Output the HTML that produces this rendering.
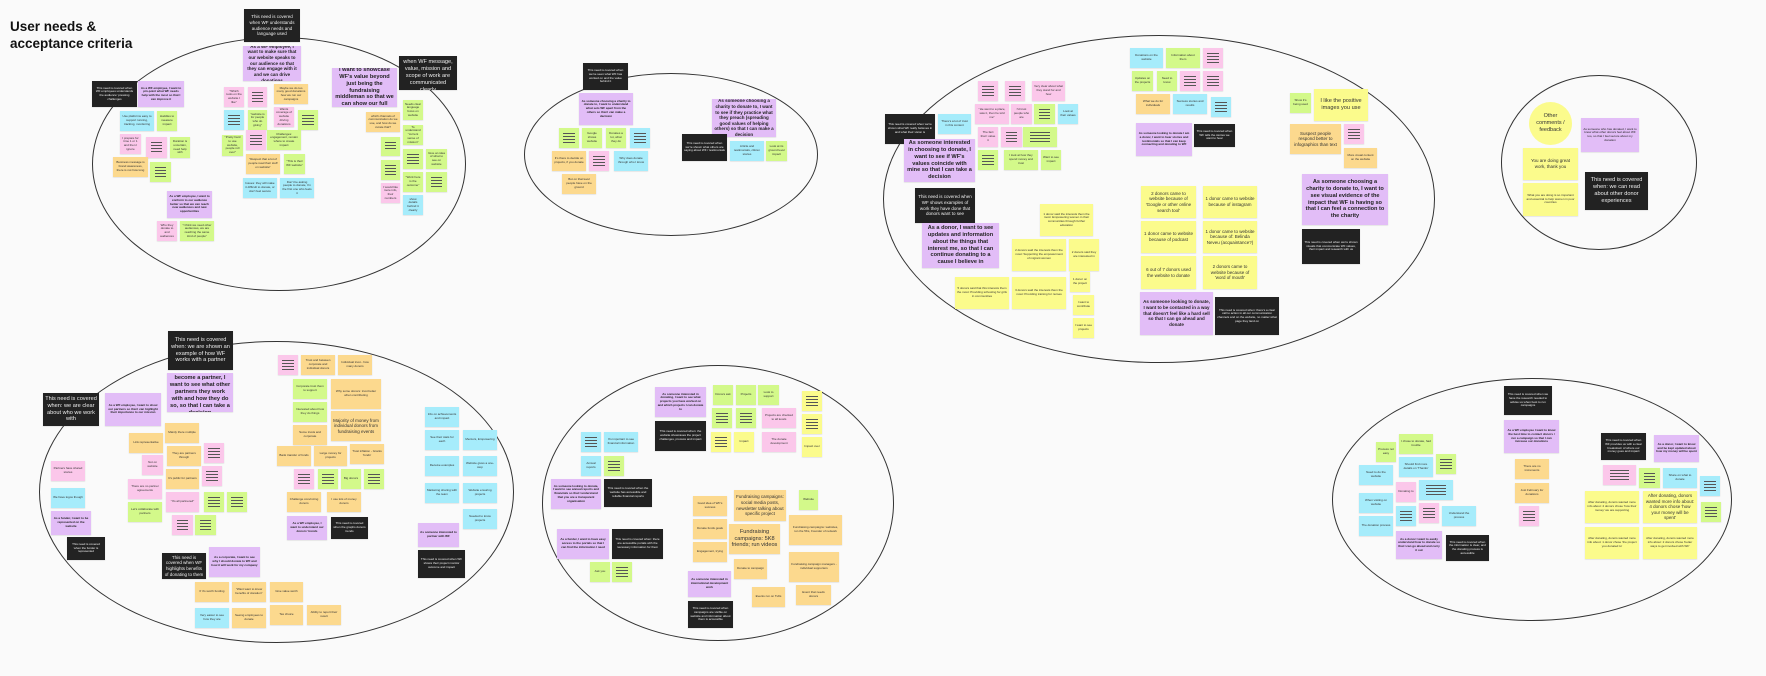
<!DOCTYPE html>
<html><head><meta charset="utf-8">
<style>
html,body{margin:0;padding:0}
body{width:1766px;height:676px;background:#fafafa;position:relative;overflow:hidden;font-family:"Liberation Sans",sans-serif}
.e{position:absolute;border:1px solid #333;border-radius:50%;box-sizing:border-box}
.n{position:absolute;box-sizing:border-box;font-size:3px;line-height:1.25;color:#333;text-align:center;padding:2px;overflow:hidden;display:flex;align-items:center;justify-content:center;box-shadow:0 0.5px 1px rgba(0,0,0,.15)}
.p{background:#e2bdf7;font-weight:bold;color:#222}
.k{background:#222;color:#eee}
.g{background:#d3f98a}
.b{background:#a6ecfb}
.i{background:#fbc7ea}
.o{background:#fcd98e}
.y{background:#fbfb8c}
.L::after{content:"";position:absolute;left:22%;right:22%;top:24%;bottom:24%;background:repeating-linear-gradient(to bottom,#555 0 1px,transparent 1px 3px)}
.big{font-size:5.6px}
.mid{font-size:4.5px}
h1{position:absolute;left:10px;top:18px;margin:0;font-size:13.5px;line-height:17px;font-weight:900;color:#111}
</style></head><body>
<h1>User needs &amp;<br>acceptance criteria</h1>

<div class="e" style="left:92px;top:37px;width:374px;height:254px"></div>
<div class="e" style="left:524px;top:73px;width:294px;height:163px"></div>
<div class="e" style="left:883px;top:35px;width:552px;height:328px"></div>
<div class="e" style="left:1501px;top:75px;width:196px;height:175px"></div>
<div class="e" style="left:39px;top:341px;width:475px;height:302px"></div>
<div class="e" style="left:542px;top:365px;width:352px;height:276px"></div>
<div class="e" style="left:1332px;top:378px;width:400px;height:243px"></div>

<!-- E1 -->
<div class="n k mid" style="left:244px;top:9px;width:56px;height:33px">This need is covered when WF understands audience needs and language used</div>
<div class="n p mid" style="left:243px;top:46px;width:58px;height:35px">As a WF employee, I want to make sure that our website speaks to our audience so that they can engage with it and we can drive donations</div>
<div class="n k big" style="left:399px;top:56px;width:58px;height:34px">This need is covered when WF message, value, mission and scope of work are communicated clearly</div>
<div class="n p big" style="left:332px;top:68px;width:65px;height:39px">As an employee of WF I want to showcase WF's value beyond just being the fundraising middleman so that we can show our full capabilities</div>
<div class="n k" style="left:92px;top:81px;width:45px;height:26px">This need is covered when WF employees understands the audience' pressing challenges</div>
<div class="n p" style="left:138px;top:81px;width:46px;height:26px">As a WF employee, I want to pin-point what WF needs help with the most so that I can improve it</div>
<div class="n b" style="left:120px;top:111px;width:34px;height:20px">Use platforms easy to support running, tracking, monitoring</div>
<div class="n g" style="left:157px;top:111px;width:20px;height:20px">Huddles to measure impact</div>
<div class="n i" style="left:120px;top:134px;width:21px;height:20px">I prepare for time 1 or 1 and then I ignore</div>
<div class="n i L" style="left:146px;top:137px;width:21px;height:21px"></div>
<div class="n g" style="left:170px;top:137px;width:20px;height:21px">Duration is uncertain, need help with</div>
<div class="n o" style="left:113px;top:157px;width:35px;height:20px">Business message is brand awareness, there is not how long</div>
<div class="n g L" style="left:150px;top:162px;width:21px;height:20px"></div>
<div class="n p" style="left:167px;top:191px;width:45px;height:27px">As a WF employee, I want to conform to our audience better so that we can reach new audiences and new opportunities</div>
<div class="n i" style="left:157px;top:221px;width:20px;height:20px">Who they donate to and audiences</div>
<div class="n g" style="left:180px;top:221px;width:34px;height:20px">"I think we need other audiences, we are reaching the same kind of people"</div>
<div class="n i" style="left:224px;top:87px;width:20px;height:20px">"Which tools on the website I like"</div>
<div class="n i L" style="left:248px;top:87px;width:19px;height:20px"></div>
<div class="n o" style="left:274px;top:84px;width:34px;height:20px">Maybe we do too many good donations how we run our campaigns</div>
<div class="n b L" style="left:224px;top:110px;width:20px;height:20px"></div>
<div class="n g" style="left:248px;top:110px;width:19px;height:20px">"website is for people who do giving"</div>
<div class="n i" style="left:274px;top:107px;width:20px;height:20px">Wants coverage of website driving donations</div>
<div class="n g L" style="left:298px;top:110px;width:20px;height:20px"></div>
<div class="n g" style="left:222px;top:135px;width:21px;height:21px">"Pretty hard to use website, people roll over"</div>
<div class="n i L" style="left:246px;top:130px;width:20px;height:20px"></div>
<div class="n g" style="left:267px;top:130px;width:34px;height:20px">Challenges: engagement, remain where to create impact</div>
<div class="n o" style="left:246px;top:154px;width:34px;height:20px">"Respect that a lot of people read their stuff on website"</div>
<div class="n g" style="left:284px;top:154px;width:21px;height:20px">"This is their WF website"</div>
<div class="n b" style="left:243px;top:178px;width:34px;height:20px">Issues: they will make it difficult to donate, or don't feel secure</div>
<div class="n b" style="left:280px;top:178px;width:34px;height:20px">Don't be asking people to donate, I'm the first one who feels it</div>
<div class="n g" style="left:403px;top:100px;width:20px;height:20px">Needs clear language focus on website</div>
<div class="n o" style="left:366px;top:112px;width:34px;height:20px">which channels of communication do we use, and how do we curate that?</div>
<div class="n g" style="left:403px;top:125px;width:20px;height:20px">To understand "current sense of mission"</div>
<div class="n g L" style="left:381px;top:137px;width:19px;height:19px"></div>
<div class="n g L" style="left:403px;top:149px;width:20px;height:20px"></div>
<div class="n g" style="left:426px;top:149px;width:21px;height:20px">Give an idea of what to see on website</div>
<div class="n g L" style="left:381px;top:160px;width:19px;height:20px"></div>
<div class="n g" style="left:403px;top:172px;width:20px;height:20px">"Work here is the outcome"</div>
<div class="n g L" style="left:426px;top:172px;width:21px;height:20px"></div>
<div class="n i" style="left:381px;top:183px;width:19px;height:20px">I would like more info, their numbers</div>
<div class="n b" style="left:403px;top:195px;width:20px;height:20px">show details behind it clearly</div>

<!-- E2 -->
<div class="n k" style="left:583px;top:63px;width:45px;height:27px">This need is covered when we've seen what WF has worked on and the value behind it</div>
<div class="n p" style="left:579px;top:93px;width:54px;height:32px">As someone choosing a charity to donate to, I want to understand what sets WF apart from the others so that I can make a decision</div>
<div class="n p mid" style="left:712px;top:99px;width:64px;height:38px">As someone choosing a charity to donate to, I want to see if they practice what they preach (spreading good values of helping others) so that I can make a decision</div>
<div class="n k" style="left:682px;top:134px;width:45px;height:27px">This need is covered when we're shown what others are saying about WF / testimonials</div>
<div class="n b" style="left:730px;top:141px;width:34px;height:20px">Article and testimonials, citizen stories</div>
<div class="n g" style="left:766px;top:141px;width:21px;height:20px">Look at its ground level impact</div>
<div class="n g L" style="left:559px;top:128px;width:20px;height:20px"></div>
<div class="n g" style="left:582px;top:128px;width:20px;height:20px">Google shows website</div>
<div class="n g" style="left:606px;top:128px;width:20px;height:20px">Donates a lot, what they do</div>
<div class="n b L" style="left:630px;top:128px;width:20px;height:20px"></div>
<div class="n o" style="left:552px;top:151px;width:34px;height:20px">It's there to decide on projects, if you donate</div>
<div class="n i L" style="left:589px;top:151px;width:20px;height:20px"></div>
<div class="n b" style="left:614px;top:151px;width:34px;height:20px">Why does donate through who I know</div>
<div class="n o" style="left:562px;top:174px;width:34px;height:20px">But on that level people have on the ground</div>

<!-- E3 -->
<div class="n k" style="left:885px;top:114px;width:50px;height:30px">This need is covered when we're shown what WF really believes in and what their vision is</div>
<div class="n b" style="left:938px;top:114px;width:33px;height:20px">There's a lot of trust in this content</div>
<div class="n p big" style="left:904px;top:139px;width:71px;height:43px">As someone interested in choosing to donate, I want to see if WF's values coincide with mine so that I can take a decision</div>
<div class="n i L" style="left:978px;top:81px;width:20px;height:20px"></div>
<div class="n i L" style="left:1005px;top:81px;width:20px;height:20px"></div>
<div class="n i" style="left:1032px;top:81px;width:33px;height:20px">Very clear about what they stand for and how</div>
<div class="n i" style="left:975px;top:104px;width:34px;height:20px">"He went to a place, saw it, then he told me"</div>
<div class="n i" style="left:1011px;top:104px;width:21px;height:20px">I'd trust people who are</div>
<div class="n g L" style="left:1034px;top:104px;width:21px;height:20px"></div>
<div class="n b" style="left:1058px;top:104px;width:20px;height:20px">Look at their values</div>
<div class="n i" style="left:978px;top:127px;width:20px;height:20px">The fact that I value it</div>
<div class="n i L" style="left:1001px;top:127px;width:21px;height:20px"></div>
<div class="n g L" style="left:1023px;top:127px;width:34px;height:20px"></div>
<div class="n g L" style="left:978px;top:150px;width:20px;height:20px"></div>
<div class="n g" style="left:1004px;top:150px;width:34px;height:20px">I look at how they spend money and trust</div>
<div class="n g" style="left:1041px;top:150px;width:20px;height:20px">Want to see impact</div>
<div class="n k mid" style="left:915px;top:188px;width:60px;height:35px">This need is covered when WF shows examples of work they have done that donors want to see</div>
<div class="n p big" style="left:922px;top:223px;width:77px;height:45px">As a donor, I want to see updates and information about the things that interest me, so that I can continue donating to a cause I believe in</div>
<div class="n y" style="left:1040px;top:204px;width:53px;height:32px">1 donor said the interests them the most: Empowering women in their communities through further education</div>
<div class="n y" style="left:1012px;top:239px;width:54px;height:32px">2 donors said the interests them the most: Supporting the empowerment of migrant women</div>
<div class="n y" style="left:1069px;top:239px;width:30px;height:32px">2 donors said they are interested in</div>
<div class="n y" style="left:955px;top:277px;width:54px;height:32px">5 donors said that this interests them the most: Providing schooling for girls in communities</div>
<div class="n y" style="left:1012px;top:277px;width:54px;height:32px">3 donors said the interests them the most: Providing training for nurses</div>
<div class="n y" style="left:1070px;top:272px;width:20px;height:20px">1 donor on the project</div>
<div class="n y" style="left:1073px;top:295px;width:21px;height:20px">I want to contribute</div>
<div class="n y" style="left:1073px;top:318px;width:21px;height:20px">I want to see projects</div>
<div class="n b" style="left:1130px;top:48px;width:33px;height:20px">Donations on the website</div>
<div class="n g" style="left:1166px;top:48px;width:34px;height:20px">Information about them</div>
<div class="n i L" style="left:1203px;top:48px;width:20px;height:20px"></div>
<div class="n g" style="left:1132px;top:71px;width:21px;height:20px">Updates on the projects</div>
<div class="n g" style="left:1157px;top:71px;width:20px;height:20px">Need to know</div>
<div class="n i L" style="left:1180px;top:71px;width:20px;height:20px"></div>
<div class="n i L" style="left:1203px;top:71px;width:20px;height:20px"></div>
<div class="n o" style="left:1136px;top:94px;width:34px;height:20px">What we do for individuals</div>
<div class="n b" style="left:1173px;top:94px;width:34px;height:20px">Success stories and results</div>
<div class="n b L" style="left:1211px;top:97px;width:20px;height:20px"></div>
<div class="n p" style="left:1136px;top:123px;width:56px;height:33px">As someone looking to donate I am a donor, I want to hear stories and testimonials so that I can keep connecting and donating to WF</div>
<div class="n k" style="left:1194px;top:124px;width:41px;height:23px">This need is covered when WF tells the stories we want to hear</div>
<div class="n y mid" style="left:1141px;top:186px;width:55px;height:32px">2 donors came to website because of 'Google or other online search tool'</div>
<div class="n y mid" style="left:1203px;top:186px;width:54px;height:32px">1 donor came to website because of instagram</div>
<div class="n y mid" style="left:1141px;top:221px;width:55px;height:32px">1 donor came to website because of podcast</div>
<div class="n y mid" style="left:1203px;top:221px;width:54px;height:32px">1 donor came to website because of: Belinda Neveu (acquaintance?)</div>
<div class="n y mid" style="left:1141px;top:256px;width:55px;height:33px">6 out of 7 donors used the website to donate</div>
<div class="n y mid" style="left:1203px;top:256px;width:54px;height:33px">2 donors came to website because of 'word of mouth'</div>
<div class="n p mid" style="left:1140px;top:292px;width:73px;height:43px">As someone looking to donate, I want to be contacted in a way that doesn't feel like a hard sell so that I can go ahead and donate</div>
<div class="n k" style="left:1215px;top:297px;width:64px;height:38px">This need is covered when: there's a clear call to action in all our communication channels and on the website, no matter what page they land on</div>
<div class="n g" style="left:1290px;top:93px;width:21px;height:20px">Show it's being used</div>
<div class="n y big" style="left:1314px;top:89px;width:54px;height:32px">I like the positive images you use</div>
<div class="n o mid" style="left:1290px;top:124px;width:51px;height:30px">Suspect people respond better to infographics than text</div>
<div class="n i L" style="left:1344px;top:124px;width:20px;height:20px"></div>
<div class="n o" style="left:1344px;top:148px;width:33px;height:20px">More visual content on the website</div>
<div class="n p big" style="left:1302px;top:174px;width:86px;height:51px">As someone choosing a charity to donate to, I want to see visual evidence of the impact that WF is having so that I can feel a connection to the charity</div>
<div class="n k" style="left:1302px;top:229px;width:58px;height:35px">This need is covered when we're shown visuals that communicate WF values, their impact and research with us</div>

<!-- E4 -->
<div class="n y" style="left:1529px;top:102px;width:43px;height:43px;border-radius:50%;font-size:5.5px;box-shadow:none">Other comments / feedback</div>
<div class="n p" style="left:1581px;top:118px;width:58px;height:34px;font-weight:normal">As someone who has donated, I want to know what other donors feel about WF too, so that I feel secure about my donation</div>
<div class="n y mid" style="left:1523px;top:148px;width:55px;height:32px">You are doing great work, thank you</div>
<div class="n y" style="left:1523px;top:183px;width:55px;height:33px">What you are doing is so important and essential to help women in poor countries</div>
<div class="n k big" style="left:1585px;top:172px;width:63px;height:38px">This need is covered when: we can read about other donor experiences</div>

<!-- E5 -->
<div class="n k big" style="left:168px;top:331px;width:65px;height:39px">This need is covered when: we are shown an example of how WF works with a partner</div>
<div class="n p big" style="left:167px;top:373px;width:66px;height:39px">As someone looking to become a partner, I want to see what other partners they work with and how they do so, so that I can take a decision</div>
<div class="n k big" style="left:43px;top:393px;width:56px;height:33px">This need is covered when: we are clear about who we work with</div>
<div class="n p" style="left:105px;top:393px;width:56px;height:33px">As a WF employee, I want to show our partners so that I can highlight their importance to our mission</div>
<div class="n i L" style="left:278px;top:355px;width:20px;height:20px"></div>
<div class="n o" style="left:301px;top:355px;width:34px;height:20px">Trust and between corporate and individual donors</div>
<div class="n o" style="left:338px;top:355px;width:34px;height:20px">Individual trust - how many donors</div>
<div class="n g" style="left:293px;top:379px;width:34px;height:20px">Corporate trust them to support</div>
<div class="n o" style="left:331px;top:379px;width:50px;height:30px">Why some donors: trust better when contributing</div>
<div class="n g" style="left:293px;top:402px;width:34px;height:20px">Interested about how they do things</div>
<div class="n o mid" style="left:331px;top:411px;width:50px;height:30px">Majority of money from individual donors from fundraising events</div>
<div class="n o" style="left:293px;top:425px;width:34px;height:20px">Some trusts and corporate</div>
<div class="n o" style="left:277px;top:446px;width:34px;height:20px">Bank transfer of funds</div>
<div class="n o" style="left:314px;top:446px;width:33px;height:20px">Large money for projects</div>
<div class="n o" style="left:350px;top:444px;width:34px;height:20px">Trust inflation - Grants 'funds'</div>
<div class="n i L" style="left:294px;top:469px;width:20px;height:20px"></div>
<div class="n g L" style="left:318px;top:469px;width:20px;height:20px"></div>
<div class="n g" style="left:341px;top:469px;width:20px;height:20px">Big donors</div>
<div class="n g L" style="left:364px;top:469px;width:20px;height:20px"></div>
<div class="n o" style="left:287px;top:492px;width:34px;height:20px">Challenge convincing donors</div>
<div class="n o" style="left:327px;top:492px;width:34px;height:20px">I use lots of money donors</div>
<div class="n p" style="left:287px;top:516px;width:40px;height:24px">As a WF employee, I want to understand our donors' trends</div>
<div class="n k" style="left:331px;top:517px;width:37px;height:22px">This need is covered when the graphs donors trends</div>
<div class="n o" style="left:165px;top:423px;width:34px;height:20px">Mainly there multiple</div>
<div class="n o" style="left:129px;top:433px;width:34px;height:20px">Link representative</div>
<div class="n o" style="left:167px;top:446px;width:34px;height:20px">They are partners through</div>
<div class="n i L" style="left:204px;top:443px;width:20px;height:20px"></div>
<div class="n i" style="left:142px;top:455px;width:21px;height:20px">Not on website</div>
<div class="n i L" style="left:202px;top:466px;width:20px;height:20px"></div>
<div class="n o" style="left:166px;top:469px;width:33px;height:20px">It's public for partners</div>
<div class="n i" style="left:51px;top:461px;width:34px;height:20px">Partners have shared stories</div>
<div class="n i" style="left:128px;top:479px;width:34px;height:20px">There are no partner agreements</div>
<div class="n i" style="left:166px;top:492px;width:33px;height:20px">"It's all partnered"</div>
<div class="n g L" style="left:204px;top:492px;width:20px;height:20px"></div>
<div class="n g L" style="left:227px;top:492px;width:20px;height:20px"></div>
<div class="n b" style="left:51px;top:488px;width:34px;height:20px">We have logos though</div>
<div class="n g" style="left:128px;top:502px;width:34px;height:20px">Let's collaborate with partners</div>
<div class="n p" style="left:51px;top:511px;width:40px;height:24px">As a funder, I want to be represented on the website</div>
<div class="n i L" style="left:172px;top:515px;width:21px;height:20px"></div>
<div class="n g L" style="left:195px;top:515px;width:21px;height:20px"></div>
<div class="n k" style="left:67px;top:537px;width:38px;height:23px">This need is covered when the funder is represented</div>
<div class="n k mid" style="left:162px;top:553px;width:44px;height:26px">This need is covered when WF highlights benefits of donating to them</div>
<div class="n p" style="left:209px;top:547px;width:51px;height:30px">As a corporate, I want to see why I should donate to WF and how it will work for my company</div>
<div class="n o" style="left:195px;top:582px;width:34px;height:20px">If it's worth funding</div>
<div class="n o" style="left:232px;top:582px;width:34px;height:20px">"Want want to know benefits of donation"</div>
<div class="n o" style="left:270px;top:582px;width:33px;height:20px">Give value worth</div>
<div class="n b" style="left:195px;top:608px;width:34px;height:20px">Very easier to see how they are</div>
<div class="n o" style="left:232px;top:608px;width:34px;height:20px">Seeing employees to donate</div>
<div class="n o" style="left:270px;top:605px;width:33px;height:20px">Tax choice</div>
<div class="n o" style="left:307px;top:605px;width:34px;height:20px">Ability to report their result</div>
<div class="n b" style="left:425px;top:407px;width:34px;height:20px">Info on achievements and impact</div>
<div class="n b" style="left:425px;top:430px;width:34px;height:20px">See their stats for each</div>
<div class="n b" style="left:463px;top:430px;width:34px;height:20px">Mentors, Empowering</div>
<div class="n b" style="left:425px;top:456px;width:34px;height:20px">Receive examples</div>
<div class="n b" style="left:463px;top:456px;width:34px;height:20px">Website gives a one-stop</div>
<div class="n b" style="left:425px;top:483px;width:34px;height:20px">Marketing sharing with the team</div>
<div class="n b" style="left:463px;top:483px;width:34px;height:20px">Website ensuring projects</div>
<div class="n b" style="left:463px;top:509px;width:34px;height:20px">Needed to know projects</div>
<div class="n p" style="left:418px;top:523px;width:41px;height:24px">As someone interested to partner with WF</div>
<div class="n k" style="left:418px;top:550px;width:47px;height:28px">This need is covered when WF shows their project monitor outcome and impact</div>

<!-- E6 -->
<div class="n p" style="left:655px;top:387px;width:51px;height:30px">As someone interested in donating, I want to see what projects you have worked on and which projects I can donate to</div>
<div class="n g" style="left:713px;top:385px;width:20px;height:20px">Donors ask</div>
<div class="n g" style="left:736px;top:385px;width:20px;height:20px">Projects</div>
<div class="n g" style="left:758px;top:385px;width:21px;height:20px">Look to support</div>
<div class="n y L" style="left:802px;top:391px;width:20px;height:20px"></div>
<div class="n k" style="left:655px;top:421px;width:51px;height:30px">This need is covered when: the website showcases the project challenges, process and impact</div>
<div class="n g L" style="left:712px;top:408px;width:20px;height:20px"></div>
<div class="n g L" style="left:736px;top:408px;width:20px;height:20px"></div>
<div class="n i" style="left:762px;top:408px;width:34px;height:20px">Projects are checked to all levels</div>
<div class="n y L" style="left:802px;top:414px;width:20px;height:20px"></div>
<div class="n y L" style="left:711px;top:432px;width:20px;height:20px"></div>
<div class="n y" style="left:734px;top:432px;width:20px;height:20px">Impact</div>
<div class="n i" style="left:762px;top:432px;width:34px;height:20px">The donate development</div>
<div class="n y" style="left:802px;top:437px;width:20px;height:20px">Impact over</div>
<div class="n b L" style="left:581px;top:432px;width:20px;height:20px"></div>
<div class="n b" style="left:604px;top:432px;width:34px;height:20px">It's important to see financial information</div>
<div class="n b" style="left:581px;top:456px;width:20px;height:20px">Annual reports</div>
<div class="n g L" style="left:604px;top:456px;width:20px;height:20px"></div>
<div class="n p" style="left:551px;top:479px;width:50px;height:30px">As someone looking to donate, I want to see annual reports and financials so that I understand that you are a transparent organisation</div>
<div class="n k" style="left:604px;top:479px;width:48px;height:28px">This need is covered when the website has accessible and reliable financial reports</div>
<div class="n o" style="left:693px;top:496px;width:34px;height:20px">Good idea of WF's success</div>
<div class="n o mid" style="left:734px;top:490px;width:52px;height:31px">Fundraising campaigns: social media posts, newsletter talking about specific project</div>
<div class="n g" style="left:799px;top:490px;width:19px;height:20px">Website</div>
<div class="n o" style="left:693px;top:519px;width:34px;height:20px">Donate funds goals</div>
<div class="n o big" style="left:729px;top:524px;width:51px;height:30px">Fundraising campaigns: 5K8 friends; run videos</div>
<div class="n o" style="left:789px;top:515px;width:53px;height:30px">Fundraising campaigns: websites, run the 5Ks, Founder of network</div>
<div class="n o" style="left:693px;top:542px;width:34px;height:20px">Engagement, trying</div>
<div class="n p" style="left:557px;top:529px;width:52px;height:30px">As a funder, I want to have easy access to the portals so that I can find the information I need</div>
<div class="n k" style="left:612px;top:529px;width:51px;height:30px">This need is covered when: there are accessible portals with the necessary information for them</div>
<div class="n o" style="left:734px;top:559px;width:33px;height:20px">Donate to campaign</div>
<div class="n o" style="left:789px;top:552px;width:50px;height:30px">Fundraising campaign managers - individual supporters</div>
<div class="n g" style="left:590px;top:562px;width:20px;height:20px">Ask you</div>
<div class="n g L" style="left:612px;top:562px;width:20px;height:20px"></div>
<div class="n p" style="left:688px;top:571px;width:43px;height:26px">As someone interested in international development work</div>
<div class="n o" style="left:752px;top:587px;width:33px;height:20px">Events run on Tufts</div>
<div class="n o" style="left:796px;top:585px;width:35px;height:20px">Event that needs donors</div>
<div class="n k" style="left:688px;top:601px;width:45px;height:27px">This need is covered when campaigns are visible on website and information about them is accessible</div>

<!-- E7 -->
<div class="n k" style="left:1504px;top:386px;width:48px;height:29px">This need is covered when we have the research needed to advise us when best to run campaigns</div>
<div class="n p" style="left:1504px;top:420px;width:55px;height:33px">As a WF employee I want to know the best time to contact donors / run a campaign so that I can increase our donations</div>
<div class="n o" style="left:1515px;top:459px;width:34px;height:20px">There are no increments</div>
<div class="n o" style="left:1515px;top:483px;width:34px;height:20px">Just February for donations</div>
<div class="n i L" style="left:1519px;top:506px;width:20px;height:20px"></div>
<div class="n k" style="left:1601px;top:433px;width:45px;height:27px">This need is covered when WF provides us with a clear breakdown of where our money goes and impact</div>
<div class="n p" style="left:1654px;top:435px;width:45px;height:27px">As a donor, I want to know and be kept updated about how my money will be spent</div>
<div class="n i L" style="left:1603px;top:465px;width:33px;height:20px"></div>
<div class="n g L" style="left:1639px;top:468px;width:21px;height:20px"></div>
<div class="n b" style="left:1663px;top:468px;width:34px;height:20px">Share on what to donate</div>
<div class="n b L" style="left:1700px;top:476px;width:20px;height:20px"></div>
<div class="n g L" style="left:1701px;top:502px;width:20px;height:20px"></div>
<div class="n y" style="left:1585px;top:491px;width:54px;height:32px">After donating, donors wanted more info about: 4 donors chose 'how their money' we are supporting</div>
<div class="n y mid" style="left:1643px;top:491px;width:54px;height:32px">After donating, donors wanted more info about: 4 donors chose 'how your money will be spent'</div>
<div class="n y" style="left:1585px;top:527px;width:54px;height:32px">After donating, donors wanted more info about: 1 donor chose 'the project you donated to'</div>
<div class="n y" style="left:1643px;top:527px;width:54px;height:32px">After donating, donors wanted more info about: 2 donors chose 'better ways to get involved with WF'</div>
<div class="n g" style="left:1376px;top:442px;width:20px;height:20px">Process not easy</div>
<div class="n g" style="left:1399px;top:434px;width:34px;height:20px">I chose to donate, had trouble</div>
<div class="n g L" style="left:1436px;top:454px;width:20px;height:20px"></div>
<div class="n b" style="left:1359px;top:465px;width:34px;height:20px">Need to do the website</div>
<div class="n b" style="left:1399px;top:457px;width:34px;height:20px">Should find more details on 'Thanks'</div>
<div class="n i" style="left:1396px;top:482px;width:20px;height:20px">Donating to</div>
<div class="n b L" style="left:1419px;top:480px;width:34px;height:20px"></div>
<div class="n b" style="left:1359px;top:493px;width:34px;height:20px">When visiting on website</div>
<div class="n b L" style="left:1396px;top:506px;width:20px;height:20px"></div>
<div class="n i L" style="left:1419px;top:503px;width:20px;height:20px"></div>
<div class="n b" style="left:1442px;top:506px;width:34px;height:20px">Understand the process</div>
<div class="n b" style="left:1359px;top:516px;width:34px;height:20px">The donation process</div>
<div class="n p" style="left:1396px;top:531px;width:46px;height:28px">As a donor I want to easily understand how to donate so that I can go ahead and carry it out</div>
<div class="n k" style="left:1446px;top:535px;width:43px;height:26px">This need is covered when the information is clear, and the donating process is accessible</div>
</body></html>
